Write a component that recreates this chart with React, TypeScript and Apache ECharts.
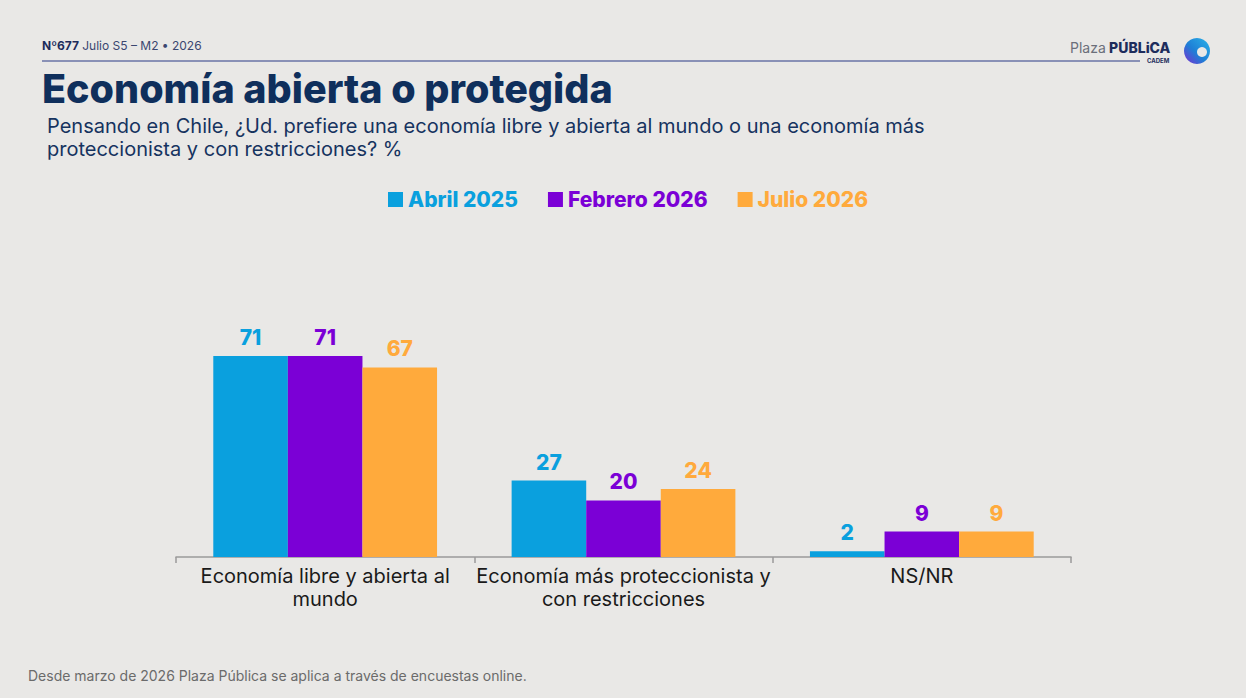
import React, { useEffect, useRef } from "react";
import * as echarts from "echarts";

const categories = [
  "Economía libre y abierta al mundo",
  "Economía más proteccionista y con restricciones",
  "NS/NR",
];
const tickLabels = [
  "Economía libre y abierta al\nmundo",
  "Economía más proteccionista y\ncon restricciones",
  "NS/NR",
];
const seriesNames = ["Abril 2025", "Febrero 2026", "Julio 2026"];
const abril2025 = [71, 27, 2];
const febrero2026 = [71, 20, 9];
const julio2026 = [67, 24, 9];
const colors = ["#0aa0de", "#7b00d6", "#ffaa3c"];

const FONT = "Inter, 'Noto Sans', sans-serif";
const BG = "#e9e8e6";
const NAVY = "#0f2f5c";

export default function App() {
  const ref = useRef<HTMLDivElement>(null);
  useEffect(() => {
    document.body.style.margin = "0";
    const chart = echarts.init(ref.current!, null, { renderer: "svg" });
    const data = [abril2025, febrero2026, julio2026];
    chart.setOption({
      animation: false,
      backgroundColor: BG,
      textStyle: { fontFamily: FONT },
      legend: {
        top: 184,
        left: 383,
        icon: "rect",
        itemWidth: 15,
        itemHeight: 15,
        itemGap: 30,
        data: seriesNames.map((n, i) => ({
          name: n,
          textStyle: { color: colors[i], fontSize: 21, fontWeight: 800, fontFamily: FONT },
        })),
      },
      grid: { left: 176, right: 175, top: 274, bottom: 141, containLabel: false },
      xAxis: {
        type: "category",
        data: categories,
        axisLine: { lineStyle: { color: "#9a9a9a", width: 1.5 } },
        axisTick: { show: true, length: 6, lineStyle: { color: "#9a9a9a", width: 1.5 } },
        axisLabel: {
          color: "#1a1a1a",
          fontSize: 20,
          fontFamily: FONT,
          lineHeight: 23,
          margin: 7,
          interval: 0,
          formatter: (_v: string, i: number) => tickLabels[i],
        },
      },
      yAxis: { type: "value", min: 0, max: 100, show: false, splitLine: { show: false } },
      series: seriesNames.map((n, i) => ({
        name: n,
        type: "bar",
        data: data[i],
        barGap: "0%",
        barCategoryGap: "25%",
        itemStyle: { color: colors[i] },
        label: {
          show: true,
          position: "top",
          distance: 8,
          color: colors[i],
          fontSize: 21,
          fontWeight: 800,
          fontFamily: FONT,
        },
      })),
      graphic: [
        {
          type: "text",
          left: 42,
          top: 39,
          style: {
            rich: {
              b: { fontWeight: 700, fontSize: 12, fill: "#1d2c5c", fontFamily: FONT },
              n: { fontWeight: 400, fontSize: 12, fill: "#3a4670", fontFamily: FONT },
            },
            text: "{b|Nº677} {n|Julio S5 – M2 • 2026}",
          },
        },
        {
          type: "line",
          shape: { x1: 42, y1: 61, x2: 1140, y2: 61 },
          style: { stroke: "#2b3a86", lineWidth: 1 },
        },
        {
          type: "text",
          left: 1070,
          top: 40,
          style: {
            rich: {
              l: { fontSize: 14, fill: "#6b6f7a", fontFamily: FONT, fontWeight: 400 },
              b: { fontSize: 14, fill: "#1d2c5c", fontFamily: FONT, fontWeight: 800 },
            },
            text: "{l|Plaza} {b|PÚBLiCA}",
          },
        },
        {
          type: "text",
          left: 1147,
          top: 57,
          style: { text: "CADEM", fontSize: 6, fontWeight: 700, fill: "#1d2c5c", fontFamily: FONT },
        },
        {
          type: "circle",
          shape: { cx: 1197, cy: 51, r: 13 },
          style: {
            fill: new echarts.graphic.LinearGradient(1, 0, 0, 1, [
              { offset: 0, color: "#2bb3e8" },
              { offset: 0.55, color: "#1e7fd6" },
              { offset: 1, color: "#7b2bd0" },
            ]),
          },
        },
        {
          type: "circle",
          shape: { cx: 1202, cy: 52, r: 5 },
          style: { fill: BG },
        },
        {
          type: "text",
          left: 42,
          top: 69,
          style: {
            text: "Economía abierta o protegida",
            fontSize: 39.5,
            fontWeight: 800,
            fill: NAVY,
            fontFamily: FONT,
          },
        },
        {
          type: "text",
          left: 47,
          top: 114,
          style: {
            text:
              "Pensando en Chile, ¿Ud. prefiere una economía libre y abierta al mundo o una economía más\nproteccionista y con restricciones? %",
            fontSize: 20,
            lineHeight: 23,
            fill: "#16335f",
            fontFamily: FONT,
          },
        },
        {
          type: "text",
          left: 28,
          top: 668,
          style: {
            text: "Desde marzo de 2026 Plaza Pública se aplica a través de encuestas online.",
            fontSize: 14,
            fill: "#6b6b6b",
            fontFamily: FONT,
          },
        },
      ],
    });
    return () => chart.dispose();
  }, []);
  return <div ref={ref} style={{ width: 1246, height: 698, position: "absolute", left: 0, top: 0 }} />;
}
